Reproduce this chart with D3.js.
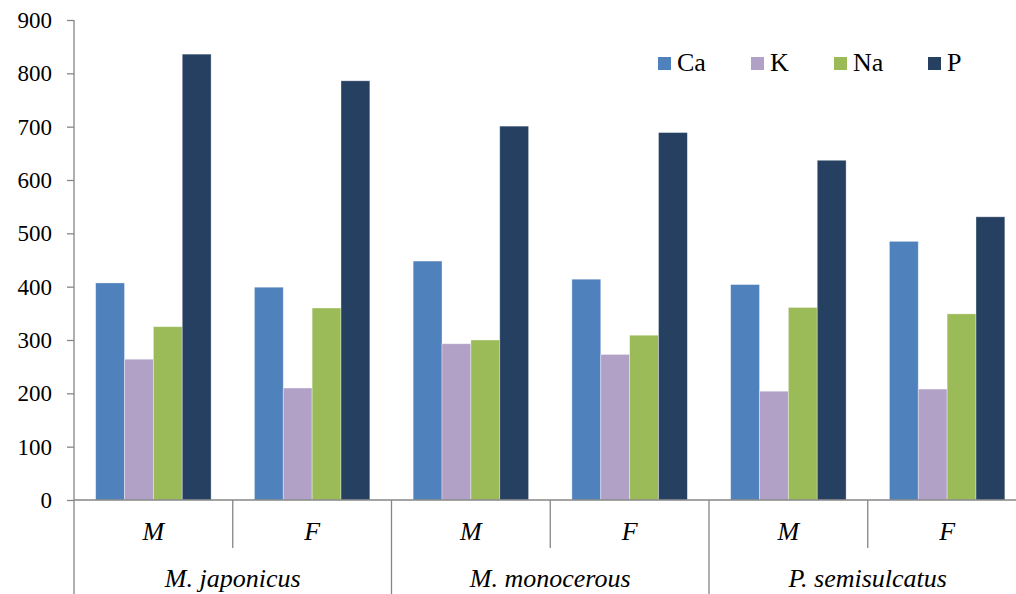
<!DOCTYPE html>
<html>
<head>
<meta charset="utf-8">
<script src="https://cdn.jsdelivr.net/npm/d3@7/dist/d3.min.js"></script>
</head>
<body style="margin:0;padding:0;background:#fff">
<div id="chart"></div>
<script>
const species = ["M. japonicus", "M. monocerous", "P. semisulcatus"];
const sexes = ["M", "F"];
const elements = ["Ca", "K", "Na", "P"];
const colors = ["#4F81BD", "#B2A1C7", "#9BBB59", "#254061"];
const Ca = [407, 399, 448, 414, 404, 485];
const K  = [264, 210, 293, 273, 204, 208];
const Na = [325, 360, 300, 309, 361, 349];
const P  = [836, 786, 701, 689, 637, 531];
const yTicks = [0, 100, 200, 300, 400, 500, 600, 700, 800, 900];

const seriesValues = { Ca: Ca, K: K, Na: Na, P: P };
const categories = [];
species.forEach(s => sexes.forEach(x => categories.push({ key: s + "|" + x, species: s, sex: x })));

const W = 1016, H = 594;
const mLeft = 74, mTop = 20, mBase = 500, mRight = 1026.5;
const axisColor = "#868686";
const FONT = "Liberation Serif";

const svg = d3.select("#chart").append("svg").attr("width", W).attr("height", H)
  .attr("font-family", FONT)
  .style("display", "block").style("font-family", FONT);

const x0 = d3.scaleBand().domain(categories.map(c => c.key)).range([mLeft, mRight]).paddingInner(0).paddingOuter(0);
const x1 = d3.scaleBand().domain(elements).range([0, x0.bandwidth()]).paddingInner(0).paddingOuter(0.75);
const y = d3.scaleLinear().domain([0, 900]).range([mBase, mTop]);

// bars
elements.forEach((el, si) => {
  svg.append("g").selectAll("rect")
    .data(categories.map((c, i) => ({ key: c.key, v: seriesValues[el][i] })))
    .join("rect")
    .attr("x", d => x0(d.key) + x1(el))
    .attr("y", d => y(d.v))
    .attr("width", x1.bandwidth())
    .attr("height", d => y(0) - y(d.v))
    .attr("fill", colors[si])
    .attr("stroke", "rgba(255,255,255,0.45)")
    .attr("stroke-width", 0.8);
});

// y axis
const yAxis = d3.axisLeft(y).tickValues(yTicks).tickSize(7).tickPadding(15).tickSizeOuter(0);
const gy = svg.append("g").attr("transform", `translate(${mLeft},0)`).call(yAxis);
gy.attr("font-family", FONT).style("font-family", FONT);
gy.select(".domain").remove();
gy.selectAll(".tick line").attr("stroke", axisColor).attr("stroke-width", 1.3);
gy.selectAll(".tick text").attr("font-size", 23).attr("fill", "#000");
svg.append("line").attr("x1", mLeft).attr("x2", mLeft).attr("y1", mTop).attr("y2", H)
  .attr("stroke", axisColor).attr("stroke-width", 1.3);

// x baseline
svg.append("line").attr("x1", mLeft).attr("x2", mRight).attr("y1", y(0)).attr("y2", y(0))
  .attr("stroke", axisColor).attr("stroke-width", 1.3);

// category separators
categories.forEach((c, i) => {
  if (i === 0) return;
  const xx = x0(c.key);
  const isGroup = c.sex === sexes[0];
  svg.append("line").attr("x1", xx).attr("x2", xx).attr("y1", y(0)).attr("y2", isGroup ? H : 548)
    .attr("stroke", axisColor).attr("stroke-width", 1.3);
});

// sex labels
svg.append("g").selectAll("text").data(categories).join("text")
  .attr("x", d => x0(d.key) + x0.bandwidth() / 2)
  .attr("y", 540)
  .attr("text-anchor", "middle")
  .attr("font-size", 26)
  .attr("font-style", "italic")
  .text(d => d.sex);

// species labels
svg.append("g").selectAll("text").data(species).join("text")
  .attr("x", s => x0(s + "|" + sexes[0]) + x0.bandwidth())
  .attr("y", 587)
  .attr("text-anchor", "middle")
  .attr("font-size", 26)
  .attr("font-style", "italic")
  .text(s => s);

// legend
const legendX = [658, 751, 834, 928];
const lg = svg.append("g");
elements.forEach((el, i) => {
  lg.append("rect").attr("x", legendX[i]).attr("y", 57).attr("width", 13).attr("height", 13).attr("fill", colors[i]);
  lg.append("text").attr("x", legendX[i] + 19).attr("y", 71).attr("font-size", 26).text(el);
});

// make every text carry the serif family explicitly and force font resolution
svg.selectAll("text").attr("font-family", FONT).style("font-family", FONT).each(function () {
  getComputedStyle(this).fontFamily;
  this.getBBox();
});
</script>
</body>
</html>
